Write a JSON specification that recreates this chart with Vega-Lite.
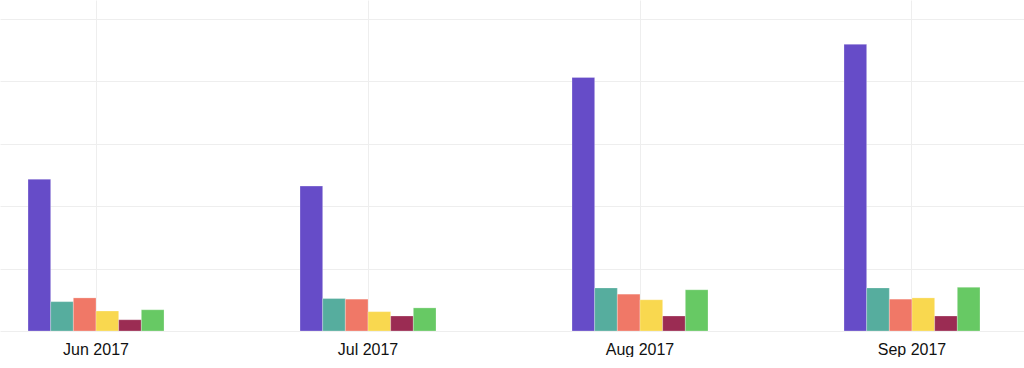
{
  "$schema": "https://vega.github.io/schema/vega-lite/v6.json",
  "width": 1024,
  "height": 331,
  "padding": 0,
  "background": "white",
  "data": {
    "values": [
      {"month": "Jun 2017", "series": "A", "value": 243},
      {"month": "Jun 2017", "series": "B", "value": 47},
      {"month": "Jun 2017", "series": "C", "value": 53},
      {"month": "Jun 2017", "series": "D", "value": 32},
      {"month": "Jun 2017", "series": "E", "value": 18},
      {"month": "Jun 2017", "series": "F", "value": 34},
      {"month": "Jul 2017", "series": "A", "value": 232},
      {"month": "Jul 2017", "series": "B", "value": 52},
      {"month": "Jul 2017", "series": "C", "value": 51},
      {"month": "Jul 2017", "series": "D", "value": 31},
      {"month": "Jul 2017", "series": "E", "value": 24},
      {"month": "Jul 2017", "series": "F", "value": 37},
      {"month": "Aug 2017", "series": "A", "value": 406},
      {"month": "Aug 2017", "series": "B", "value": 69},
      {"month": "Aug 2017", "series": "C", "value": 59},
      {"month": "Aug 2017", "series": "D", "value": 50},
      {"month": "Aug 2017", "series": "E", "value": 24},
      {"month": "Aug 2017", "series": "F", "value": 66},
      {"month": "Sep 2017", "series": "A", "value": 459},
      {"month": "Sep 2017", "series": "B", "value": 69},
      {"month": "Sep 2017", "series": "C", "value": 51},
      {"month": "Sep 2017", "series": "D", "value": 53},
      {"month": "Sep 2017", "series": "E", "value": 24},
      {"month": "Sep 2017", "series": "F", "value": 70}
    ]
  },
  "mark": {"type": "bar", "strokeWidth": 1, "stroke": "white", "strokeOpacity": 0.25},
  "encoding": {
    "x": {
      "field": "month",
      "type": "ordinal",
      "sort": ["Jun 2017", "Jul 2017", "Aug 2017", "Sep 2017"],
      "scale": {"paddingInner": 0.5, "paddingOuter": 0.1324, "align": 0.389},
      "axis": {
        "title": null,
        "labelAngle": 0,
        "grid": true,
        "bandPosition": 0.5,
        "gridColor": "#eeeeee",
        "gridWidth": 1,
        "domain": false,
        "ticks": false,
        "labelFont": "Liberation Sans",
        "labelFontSize": 16,
        "labelColor": "#111111",
        "labelPadding": 10
      }
    },
    "xOffset": {"field": "series", "type": "nominal", "scale": {"paddingInner": 0, "paddingOuter": 0}},
    "y": {
      "field": "value",
      "type": "quantitative",
      "scale": {"domain": [0, 530], "nice": false, "zero": true},
      "axis": {
        "title": null,
        "values": [0, 100, 200, 300, 400, 500],
        "labels": false,
        "ticks": false,
        "domain": false,
        "grid": true,
        "gridColor": "#eeeeee",
        "gridWidth": 1
      }
    },
    "color": {
      "field": "series",
      "type": "nominal",
      "scale": {
        "domain": ["A", "B", "C", "D", "E", "F"],
        "range": ["#664cc8", "#56ad9e", "#f07867", "#f9d84f", "#9b2c53", "#67c964"]
      },
      "legend": null
    }
  },
  "config": {"view": {"stroke": null}}
}
